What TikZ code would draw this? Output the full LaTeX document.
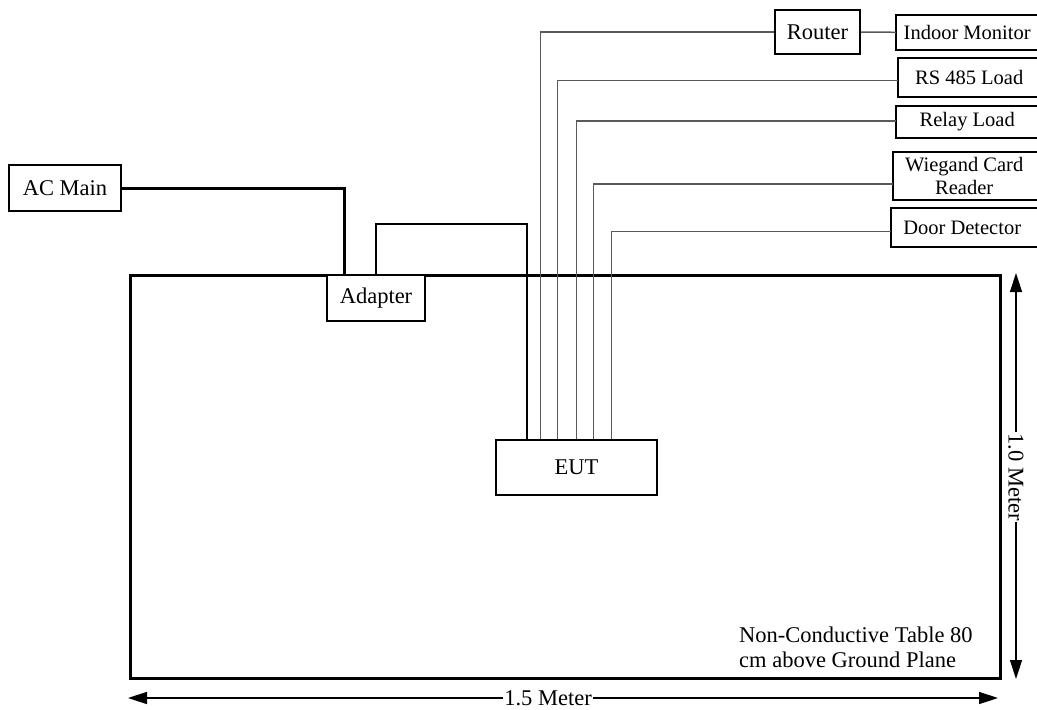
\documentclass[tikz,border=0pt]{standalone}
\usepackage{fontspec}
\setmainfont{Liberation Serif}
\usetikzlibrary{arrows.meta, positioning, calc}
\newcommand{\rtext}[1]{\makebox[138pt]{#1}}
\tikzset{
  >=latex,
  % boxes
  box/.style={draw,line width=1.5pt,fill=white,inner sep=2pt,align=center},
  rbox/.style={inner sep=2pt,anchor=west,align=left,font=\fontsize{20.5}{23}\selectfont},
  % wires
  acw/.style={line width=3pt},
  pwr/.style={line width=2pt},
  sig/.style={line width=1.5pt,black!65},
  % dimensions
  dim/.style={{Triangle[length=19pt,width=12pt]}-{Triangle[length=19pt,width=12pt]},line width=1.5pt},
  dimlabel/.style={fill=white,inner sep=1pt}
}
\begin{document}
\begin{tikzpicture}[x=1pt,y=-1pt,font=\fontsize{22.5}{25}\selectfont]
  \useasboundingbox (0,0) rectangle (1037,710);
  % table
  \node[draw,line width=3pt,minimum width=870pt,minimum height=403pt] (table) at (565,476.5) {};
  \node[anchor=north west,inner sep=0pt,align=left] (tabletext) at (739,627)
    {Non-Conductive Table 80\\ cm above Ground Plane};
  % equipment
  \node[box,minimum width=112pt,minimum height=46pt] (acmain) at (65,188) {AC Main};
  \node[box,minimum width=161pt,minimum height=55pt] (eut) at (576.5,467.5) {EUT};
  \node[box,minimum width=85pt,minimum height=44pt] (router) at (817.5,32) {Router};
  \node[rbox,minimum height=35pt] (monitor) at (896,32.5) {\rtext{Indoor Monitor}};
  \node[rbox,minimum height=39pt] (rs) at (898,77.5) {\rtext{RS 485 Load}};
  \node[rbox,minimum height=32pt] (relay) at (896,122) {\rtext{Relay Load}};
  \node[rbox,minimum height=48pt] (wiegand) at (893,176) {\rtext{Wiegand Card}\\ \rtext{Reader}};
  \node[rbox,minimum height=39pt] (door) at (891,227.5) {\rtext{Door Detector}};
  % open boxes running off the right edge
  \foreach \n in {monitor,rs,relay,wiegand,door}
    \draw[line width=1.5pt] (\n.north -| 1037,0) -| (\n.west) |- (\n.south -| 1037,0);
  % signal cables
  \foreach \dx/\tgt/\dy in {45/router/0, 62/rs/-3, 81/relay/1, 98/wiegand/-8, 116/door/-4}
    \draw[sig] ([xshift=\dx pt]eut.north west) |- ([yshift=\dy pt]\tgt.west);
  \draw[sig] (router) -- (monitor);
  % power
  \coordinate (bend) at (527,224);
  \node[box,minimum width=98pt,minimum height=46pt] (adapter) at (376,298) {Adapter};
  \draw[pwr] (adapter.north) |- (bend) -- (bend |- eut.north);
  \draw[acw] (acmain.east) -| ([xshift=18pt]adapter.north west);
  % dimensions
  \coordinate (wl) at (128,698);
  \coordinate (wr) at (998,698);
  \coordinate (ht) at (1016,273);
  \coordinate (hb) at (1016,679);
  \draw[dim] (wl) -- (wr);
  \draw[dim] (ht) -- (hb);
  \node[dimlabel] (wlabel) at (548,698) {1.5 Meter};
  \node[dimlabel,rotate=-90] (hlabel) at (1016,477) {1.0 Meter};
\end{tikzpicture}
\end{document}
